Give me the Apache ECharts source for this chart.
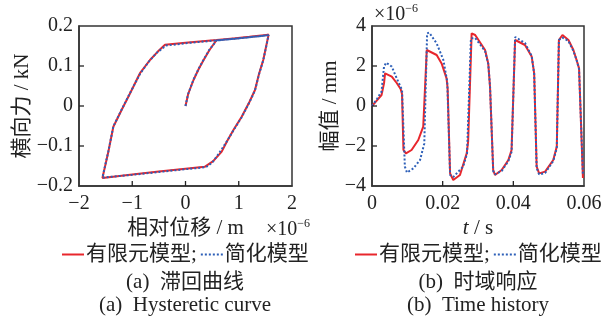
<!DOCTYPE html>
<html>
<head>
<meta charset="utf-8">
<script src="https://cdn.jsdelivr.net/npm/echarts@6/dist/echarts.min.js"></script>
<style>
html,body{margin:0;padding:0;background:#fff;}
#c{width:614px;height:326px;}
</style>
</head>
<body>
<div id="c"></div>
<script>
// ---------- data ----------
// (a) hysteresis curve, x in 1e-6 m, y in kN
const hystRedX = [0, 0.05, 0.15, 0.25, 0.34, 0.45, 0.585, 0.9, 1.2, 1.56, 1.5, 1.46, 1.38, 1.305, 1.2, 1.055, 0.9, 0.78, 0.68, 0.52, 0.36, 0.0, -0.5, -1.0, -1.56, -1.45, -1.355, -1.2, -1.04, -0.855, -0.667, -0.52, -0.385, 0.0, 0.585, 1.0, 1.56];
const hystRedY = [0, 0.03, 0.065, 0.093, 0.115, 0.14, 0.165, 0.169, 0.173, 0.178, 0.14, 0.115, 0.08, 0.04, 0.01, -0.027, -0.06, -0.088, -0.114, -0.138, -0.152, -0.157, -0.164, -0.171, -0.18, -0.115, -0.052, -0.01, 0.032, 0.082, 0.115, 0.136, 0.153, 0.158, 0.165, 0.17, 0.178];
const hystBlueX = [0, 0.05, 0.15, 0.25, 0.34, 0.45, 0.585, 0.9, 1.2, 1.56, 1.5, 1.46, 1.38, 1.305, 1.2, 1.055, 0.9, 0.76, 0.62, 0.5, 0.38, 0.0, -0.5, -1.0, -1.56, -1.45, -1.355, -1.2, -1.04, -0.855, -0.69, -0.54, -0.37, 0.0, 0.585, 1.0, 1.56];
const hystBlueY = [0, 0.03, 0.066, 0.094, 0.116, 0.141, 0.164, 0.168, 0.172, 0.177, 0.139, 0.114, 0.079, 0.039, 0.009, -0.028, -0.061, -0.092, -0.12, -0.142, -0.153, -0.158, -0.165, -0.172, -0.179, -0.114, -0.051, -0.009, 0.033, 0.08, 0.111, 0.133, 0.151, 0.157, 0.164, 0.169, 0.177];
const hystXTickValues = [-2, -1, 0, 1, 2];
const hystYTickValues = [-0.2, -0.1, 0, 0.1, 0.2];
const hystXTicks = ['\u22122', '\u22121', '0', '1', '2'];
const hystYTicks = ['\u22120.2', '\u22120.1', '0', '0.1', '0.2'];

// (b) time history, t in s, amplitude in 1e-6 mm
const timeRedT = [0, 0.0014, 0.0027, 0.0034, 0.0037, 0.0042, 0.0056, 0.007, 0.0081, 0.0085, 0.0089, 0.0096, 0.0112, 0.0131, 0.0145, 0.0155, 0.016, 0.0183, 0.0197, 0.0211, 0.0214, 0.0221, 0.023, 0.0249, 0.0268, 0.0272, 0.0282, 0.0286, 0.0292, 0.032, 0.0329, 0.0334, 0.0343, 0.0348, 0.0367, 0.0386, 0.0395, 0.0405, 0.041, 0.0433, 0.0452, 0.0459, 0.0466, 0.0473, 0.049, 0.0513, 0.0523, 0.0529, 0.0539, 0.0556, 0.057, 0.0579, 0.0586, 0.0597];
const timeRedV = [0, 0.28, 0.55, 1.13, 1.63, 1.68, 1.47, 1.15, 0.85, 0.6, -2.2, -2.37, -2.2, -1.7, -1.03, 2.8, 2.88, 2.55, 2.13, 1.38, 0.9, -3.37, -3.7, -3.45, -2.37, -1.8, 3.63, 3.7, 3.55, 2.8, 2.13, 0.97, -3.2, -3.45, -3.2, -2.7, -2.2, 3.3, 3.38, 3.05, 2.47, 1.63, -3.03, -3.37, -3.28, -2.7, -2.03, 3.3, 3.55, 3.3, 2.8, 2.3, 1.88, -3.6];
const timeBlueT = [0, 0.0014, 0.0027, 0.0034, 0.004, 0.0056, 0.007, 0.0085, 0.0093, 0.0099, 0.0117, 0.0136, 0.0148, 0.0156, 0.0162, 0.0183, 0.0202, 0.0213, 0.0221, 0.023, 0.0258, 0.0269, 0.028, 0.0292, 0.032, 0.0329, 0.0334, 0.0343, 0.0348, 0.0367, 0.0386, 0.0395, 0.0405, 0.041, 0.0433, 0.0452, 0.0459, 0.0466, 0.0473, 0.049, 0.0513, 0.0523, 0.0529, 0.0539, 0.0556, 0.057, 0.0579, 0.0586, 0.0597];
const timeBlueV = [0, 0.35, 0.72, 1.97, 2.17, 1.97, 1.38, 0.8, -3.03, -3.33, -3.12, -2.7, -1.87, 3.63, 3.67, 3.13, 2.3, 1.22, -3.45, -3.55, -3.03, -2.37, 3.38, 3.4, 2.75, 2.1, 1.0, -3.25, -3.42, -3.25, -2.75, -2.3, 3.45, 3.5, 3.15, 2.5, 1.6, -3.1, -3.42, -3.35, -2.75, -2.1, 3.3, 3.42, 3.25, 2.75, 2.3, 1.85, -3.45];
const timeXTickValues = [0, 0.02, 0.04, 0.06];
const timeYTickValues = [-4, -2, 0, 2, 4];
const timeXTicks = ['0', '0.02', '0.04', '0.06'];
const timeYTicks = ['\u22124', '\u22122', '0', '2', '4'];

const seriesNames = ['有限元模型;', '简化模型'];

// ---------- chart ----------
const FONT = "'Liberation Serif', 'Times New Roman', 'Noto Sans CJK SC', serif";
const RED = '#e8262c';
const BLUE = '#2d5fb8';
const pairs = (xs, ys) => xs.map((x, i) => [x, ys[i]]);

const chart = echarts.init(document.getElementById('c'), null, {renderer: 'canvas'});

const axisCommon = {
  axisLine: {show: true, onZero: false, lineStyle: {color: '#333', width: 1.5}},
  axisTick: {show: false},
  splitLine: {show: false},
  nameLocation: 'middle',
};
const labelStyle = {fontFamily: FONT, fontSize: 20, color: '#222'};
const nameStyle = {fontFamily: FONT, fontSize: 21, color: '#222'};

// inward tick marks, placed through the axes' own coordinate mapping
function tickSeries(xIdx, yIdx, values, dir, fixed) {
  const inner = values.slice(1, values.length - 1);
  return {
    type: 'custom', xAxisIndex: xIdx, yAxisIndex: yIdx, silent: true, z: 5, clip: false,
    data: inner.map(v => dir === 'x' ? [v, fixed] : [fixed, v]),
    renderItem: function (params, api) {
      const p = api.coord([api.value(0), api.value(1)]);
      const shape = dir === 'x'
        ? {x1: p[0], y1: p[1], x2: p[0], y2: p[1] - 5}
        : {x1: p[0], y1: p[1], x2: p[0] + 5, y2: p[1]};
      return {type: 'line', shape: shape, style: {stroke: '#222', lineWidth: 1.3}};
    }
  };
}

const option = {
  animation: false,
  backgroundColor: '#fff',
  textStyle: {fontFamily: FONT},
  grid: [
    {left: 79, top: 26, width: 213, height: 160, show: true, borderColor: '#333', borderWidth: 1.5, backgroundColor: 'transparent'},
    {left: 372, top: 26, width: 212, height: 160, show: true, borderColor: '#333', borderWidth: 1.5, backgroundColor: 'transparent'}
  ],
  xAxis: [
    Object.assign({}, axisCommon, {
      gridIndex: 0, type: 'value', position: 'bottom', min: -2, max: 2, interval: 1,
      name: '相对位移 / m', nameGap: 32, nameTextStyle: nameStyle,
      axisLabel: Object.assign({}, labelStyle, {margin: 8, formatter: (v, i) => hystXTicks[i]})
    }),
    Object.assign({}, axisCommon, {
      gridIndex: 1, type: 'value', position: 'bottom', min: 0, max: 0.06, interval: 0.02,
      name: '{i|t} / s', nameGap: 32,
      nameTextStyle: Object.assign({}, nameStyle, {rich: {i: {fontFamily: FONT, fontSize: 21, fontStyle: 'italic', color: '#222'}}}),
      axisLabel: Object.assign({}, labelStyle, {margin: 8, formatter: (v, i) => timeXTicks[i]})
    })
  ],
  yAxis: [
    Object.assign({}, axisCommon, {
      gridIndex: 0, type: 'value', position: 'left', min: -0.2, max: 0.2, interval: 0.1,
      name: '横向力 / kN', nameGap: 38, nameRotate: 90, nameTextStyle: nameStyle,
      axisLabel: Object.assign({}, labelStyle, {margin: 6, formatter: (v, i) => hystYTicks[i]})
    }),
    Object.assign({}, axisCommon, {
      gridIndex: 1, type: 'value', position: 'left', min: -4, max: 4, interval: 2,
      name: '幅值 / mm', nameGap: 24, nameRotate: 90, nameTextStyle: nameStyle,
      axisLabel: Object.assign({}, labelStyle, {margin: 6, formatter: (v, i) => timeYTicks[i]})
    })
  ],
  legend: [
    {left: 61, top: 244, itemWidth: 22, itemHeight: 14, itemGap: 3, padding: 0,
     itemStyle: {opacity: 0},
     data: seriesNames, textStyle: {fontFamily: FONT, fontSize: 21, color: '#222', padding: [0, 0, 0, -3]}},
    {left: 354, top: 244, itemWidth: 22, itemHeight: 14, itemGap: 3, padding: 0,
     itemStyle: {opacity: 0},
     data: seriesNames, textStyle: {fontFamily: FONT, fontSize: 21, color: '#222', padding: [0, 0, 0, -3]}}
  ],
  graphic: [
    {type: 'text', left: 266, top: 218, style: {text: '×10{s|−6}', font: '20px ' + FONT, fill: '#222',
      rich: {s: {fontFamily: FONT, fontSize: 12, fill: '#222', padding: [0, 0, 12, 0]}}}},
    {type: 'text', left: 374, top: 3, style: {text: '×10{s|−6}', font: '20px ' + FONT, fill: '#222',
      rich: {s: {fontFamily: FONT, fontSize: 12, fill: '#222', padding: [0, 0, 12, 0]}}}},
    {type: 'text', x: 185, y: 282, style: {text: '(a)  滞回曲线', font: '21px ' + FONT, fill: '#222', align: 'center', verticalAlign: 'middle'}},
    {type: 'text', x: 185, y: 305, style: {text: '(a)  Hysteretic curve', font: '21px ' + FONT, fill: '#222', align: 'center', verticalAlign: 'middle'}},
    {type: 'text', x: 478, y: 282, style: {text: '(b)  时域响应', font: '21px ' + FONT, fill: '#222', align: 'center', verticalAlign: 'middle'}},
    {type: 'text', x: 478, y: 305, style: {text: '(b)  Time history', font: '21px ' + FONT, fill: '#222', align: 'center', verticalAlign: 'middle'}}
  ],
  series: [
    {name: seriesNames[0], type: 'line', xAxisIndex: 0, yAxisIndex: 0, showSymbol: false, symbol: 'none',
     data: pairs(hystRedX, hystRedY), lineStyle: {color: RED, width: 2}, itemStyle: {color: RED}},
    {name: seriesNames[1], type: 'line', xAxisIndex: 0, yAxisIndex: 0, showSymbol: false, symbol: 'none',
     data: pairs(hystBlueX, hystBlueY), lineStyle: {color: BLUE, width: 2, type: [2, 2]}, itemStyle: {color: BLUE}},
    {name: seriesNames[0], type: 'line', xAxisIndex: 1, yAxisIndex: 1, showSymbol: false, symbol: 'none',
     data: pairs(timeRedT, timeRedV), lineStyle: {color: RED, width: 2}, itemStyle: {color: RED}},
    {name: seriesNames[1], type: 'line', xAxisIndex: 1, yAxisIndex: 1, showSymbol: false, symbol: 'none',
     data: pairs(timeBlueT, timeBlueV), lineStyle: {color: BLUE, width: 2, type: [2, 2]}, itemStyle: {color: BLUE}},
    tickSeries(0, 0, hystXTickValues, 'x', hystYTickValues[0]),
    tickSeries(0, 0, hystYTickValues, 'y', hystXTickValues[0]),
    tickSeries(1, 1, timeXTickValues, 'x', timeYTickValues[0]),
    tickSeries(1, 1, timeYTickValues, 'y', timeXTickValues[0])
  ]
};
chart.setOption(option);
</script>
</body>
</html>
